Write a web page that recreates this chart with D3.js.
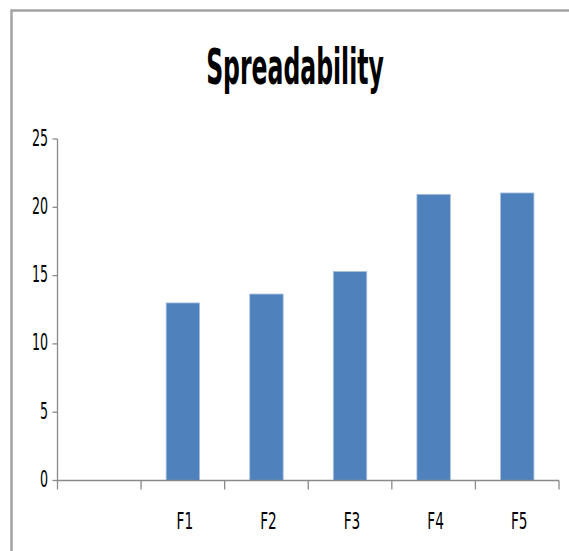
<!DOCTYPE html>
<html>
<head>
<meta charset="utf-8">
<script src="https://cdn.jsdelivr.net/npm/d3@7"></script>
<style>
  html, body { margin: 0; padding: 0; background: #fff; }
  svg { display: block; }
  text { font-family: "Liberation Sans Narrow", "DejaVu Sans Condensed", sans-serif; fill: #000; }
</style>
</head>
<body>
<svg id="chart" width="569" height="551"></svg>
<script>
const title = "Spreadability";
const categories = ["", "F1", "F2", "F3", "F4", "F5"];
const values = [null, 13.0, 13.65, 15.3, 20.95, 21.05];
const yTicks = [0, 5, 10, 15, 20, 25];

const svg = d3.select("#chart");
const W = 569, H = 551;
const plot = { left: 57.5, right: 559, top: 139, bottom: 480.5 };
const SY = 1.45;

// frame
svg.append("path")
  .attr("d", `M11.5,${H} L11.5,10.5 L${W},10.5`)
  .attr("fill", "none").attr("stroke", "#a3a3a3").attr("stroke-width", 2.5);

// title
svg.append("text")
  .attr("transform", `translate(295,84) scale(0.77,${SY})`)
  .attr("text-anchor", "middle")
  .attr("font-size", 34).attr("font-weight", "bold")
  .text(title);

const x = d3.scaleBand().domain(categories).range([plot.left, plot.right]).padding(0);
const y = d3.scaleLinear().domain([0, 25]).range([plot.bottom, plot.top]);

const axisColor = "#8a8a8a";

// bars
const bw = x.bandwidth() * 0.4;
svg.append("g").selectAll("rect")
  .data(categories.map((c, i) => ({ c, v: values[i] })).filter(d => d.v != null))
  .join("rect")
  .attr("x", d => x(d.c) + x.bandwidth() / 2 - bw / 2)
  .attr("y", d => y(d.v))
  .attr("width", bw)
  .attr("height", d => y(0) - y(d.v))
  .attr("fill", "#4f81bd")
  .attr("stroke", "#a9c0de")
  .attr("stroke-width", 0.8);

// y axis
const gy = svg.append("g");
gy.append("line")
  .attr("x1", plot.left).attr("x2", plot.left)
  .attr("y1", y(25)).attr("y2", y(0) + 9)
  .attr("stroke", axisColor).attr("stroke-width", 1.3);
gy.selectAll("line.tick").data(yTicks).join("line")
  .attr("class", "tick")
  .attr("x1", plot.left - 5).attr("x2", plot.left)
  .attr("y1", d => y(d)).attr("y2", d => y(d))
  .attr("stroke", axisColor).attr("stroke-width", 1.3);
gy.selectAll("text").data(yTicks).join("text")
  .attr("transform", d => `translate(48,${y(d) + 6.5}) scale(0.88,${SY})`)
  .attr("text-anchor", "end")
  .attr("font-size", 16)
  .text(d => d);

// x axis
const gx = svg.append("g");
gx.append("line")
  .attr("x1", plot.left).attr("x2", plot.right)
  .attr("y1", y(0)).attr("y2", y(0))
  .attr("stroke", axisColor).attr("stroke-width", 1.3);
const bounds = categories.map(c => x(c) + x.bandwidth());
gx.selectAll("line.tick").data(bounds).join("line")
  .attr("class", "tick")
  .attr("x1", d => d).attr("x2", d => d)
  .attr("y1", y(0)).attr("y2", y(0) + 9)
  .attr("stroke", axisColor).attr("stroke-width", 1.3);
gx.selectAll("text").data(categories).join("text")
  .attr("transform", d => `translate(${x(d) + x.bandwidth() / 2 + 2},529) scale(0.95,${SY})`)
  .attr("text-anchor", "middle")
  .attr("font-size", 16)
  .text(d => d);
</script>
</body>
</html>
